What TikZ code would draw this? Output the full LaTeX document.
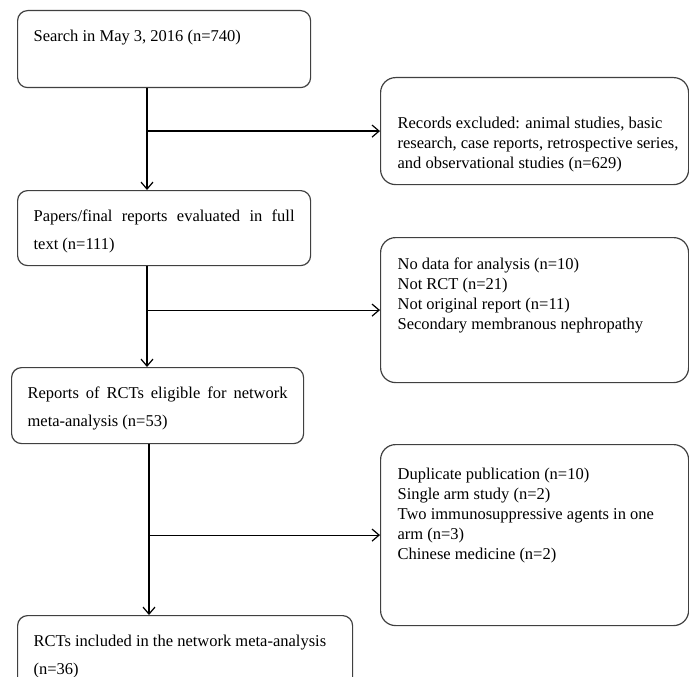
\documentclass[tikz,border=0pt]{standalone}
\usepackage{fontspec}
\setmainfont{Liberation Serif}
\usetikzlibrary{positioning,arrows.meta}
\definecolor{fgrey}{HTML}{404040}
% text block of a box: height, width, gap above first line, text
\newcommand{\flowtext}[4]{\parbox[c][#1][t]{#2}{\vspace*{#3}#4}}
\newcommand{\spreadline}[1]{\makebox[\linewidth][s]{#1}}

\begin{document}
\begin{tikzpicture}[x=1pt, y=-1pt, >=Straight Barb,
  box/.style={draw=fgrey, line width=1.2pt, rounded corners=10pt, anchor=north west,
              inner xsep=16pt, inner ysep=0pt, font=\fontsize{16.5}{28}\selectfont},
  xbox/.style={box, rounded corners=15pt, inner xsep=17pt,
               font=\fontsize{16.5}{20}\selectfont},
  arr/.style={-{Straight Barb[length=7pt,width=12pt]}, line width=1.2pt, draw=black}]
  \useasboundingbox (0,0) rectangle (689,677);
  % --- main path (left column)
  \node[box] (s1) at (17,10)  {\flowtext{77pt}{261pt}{19pt}{Search in May 3, 2016 (n=740)}};
  \node[box] (s2) at (17,190) {\flowtext{75pt}{261pt}{19pt}{\spreadline{Papers/final reports evaluated in full}\\text (n=111)}};
  \node[box] (s3) at (11,367) {\flowtext{76pt}{260pt}{19pt}{\spreadline{Reports of RCTs eligible for network}\\meta-analysis (n=53)}};
  \node[box] (s4) at (17,615) {\flowtext{80pt}{303pt}{19pt}{RCTs included in the network meta-analysis\\(n=36)}};
  % --- exclusions (right column)
  \node[xbox] (x1) at (380,77)  {\flowtext{107pt}{274pt}{39pt}{\raggedright Records excluded: animal studies, basic\\\mbox{research, case reports, retrospective series,}\\and observational studies (n=629)}};
  \node[xbox] (x2) at (380,237) {\flowtext{145pt}{274pt}{20pt}{\raggedright No data for analysis (n=10)\\Not RCT (n=21)\\Not original report (n=11)\\Secondary membranous nephropathy}};
  \node[xbox] (x3) at (380,444) {\flowtext{181pt}{274pt}{23pt}{\raggedright Duplicate publication (n=10)\\Single arm study (n=2)\\Two immunosuppressive agents in one\\arm (n=3)\\Chinese medicine (n=2)}};
  % --- connectors
  \coordinate (spine)  at (147,0);
  \coordinate (spineb) at (149,0);
  \draw[arr] (s1.south -| spine)  -- (s2.north -| spine);
  \draw[arr] (s2.south -| spine)  -- (s3.north -| spine);
  \draw[arr] (s3.south -| spineb) -- (s4.north -| spineb);
  \draw[arr] (x1.west -| spine)  -- (x1.west);
  \draw[arr] (x2.west -| spine)  -- (x2.west);
  \draw[arr] (x3.west -| spineb) -- (x3.west);
\end{tikzpicture}
\end{document}
